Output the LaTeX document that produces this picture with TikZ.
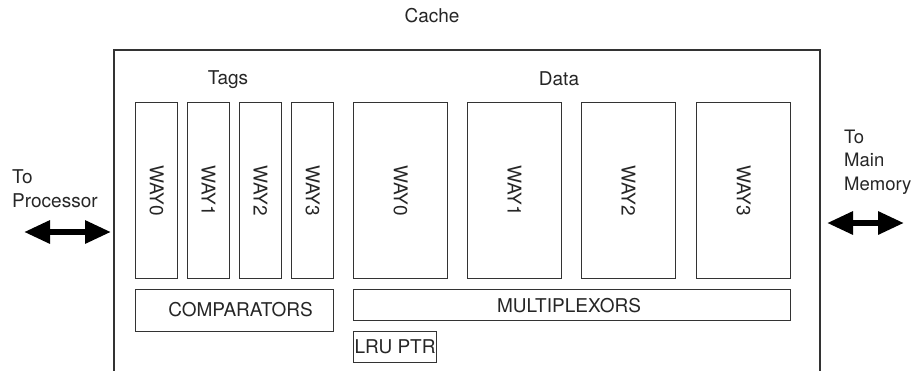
\documentclass[tikz,border=0pt]{standalone}
\usepackage{fontspec}
\setmainfont{TeX Gyre Heros}
\usetikzlibrary{arrows.meta}
\tikzset{
  every node/.style={font=\fontsize{19}{24}\selectfont, text=black!85},
  box/.style={draw=black!80, line width=1.1pt, rectangle, inner sep=0pt, anchor=north west},
  waytext/.style={rotate=-90, inner sep=0pt},
  lbl/.style={inner sep=0pt, anchor=base west},
  rlbl/.style={lbl, font=\fontsize{18.5}{23.5}\selectfont},
  clbl/.style={inner sep=0pt, anchor=base},
  bus/.style={line width=6pt, black, {Triangle[length=26pt,width=22pt]}-{Triangle[length=26pt,width=22pt]}},
}
\begin{document}
\begin{tikzpicture}[x=1pt,y=-1pt]
\useasboundingbox (0,0) rectangle (912,370);
\fill[white] (0,0) rectangle (912,370);
% cache outline (open at bottom)
\draw[black!80, line width=1.1pt] (114,375) -- (114,50) -- (820,50) -- (820,375);
\node[clbl] (cache) at (432,22) {Cache};
\node[clbl] (tags) at (228,84) {Tags};
\node[clbl] (data) at (559,85) {Data};
% tag ways
\foreach \i/\x in {0/135,1/187,2/239,3/291}{
  \node[box, minimum width=42pt, minimum height=176pt] (t\i) at (\x,102) {};
  \node[waytext] (tt\i) at (t\i.center) {WAY\i};
}
% data ways
\foreach \i/\x in {0/353,1/467,2/581,3/696}{
  \node[box, minimum width=94pt, minimum height=176pt] (d\i) at (\x,102) {};
  \node[waytext] (dt\i) at (d\i.center) {WAY\i};
}
\node[box, minimum width=198pt, minimum height=42pt] (comp) at (135,289) {};
\node (comptext) at ([xshift=6pt,yshift=1pt]comp.center) {COMPARATORS};
\node[box, minimum width=437pt, minimum height=31pt] (mux) at (353,289) {};
\node (muxtext) at ([xshift=-3pt,yshift=-1pt]mux.center) {MULTIPLEXORS};
\node[box, minimum width=83pt, minimum height=31pt] (lru) at (353,331) {};
\node (lrutext) at (lru.center) {LRU PTR};
% external labels
\node[lbl] (to1) at (12,183) {To};
\node[lbl] (proc) at (12,207) {Processor};
\node[rlbl] (to2) at (844,143) {To};
\node[rlbl] (main) at (844,166) {Main};
\node[rlbl] (mem) at (844,190) {Memory};
% buses
\coordinate (pl) at (24,232);
\coordinate (pr) at (111,232);
\coordinate (ml) at (827,223);
\coordinate (mr) at (904,223);
\draw[bus] (pl) -- (pr);
\draw[bus] (ml) -- (mr);
\end{tikzpicture}
\end{document}
